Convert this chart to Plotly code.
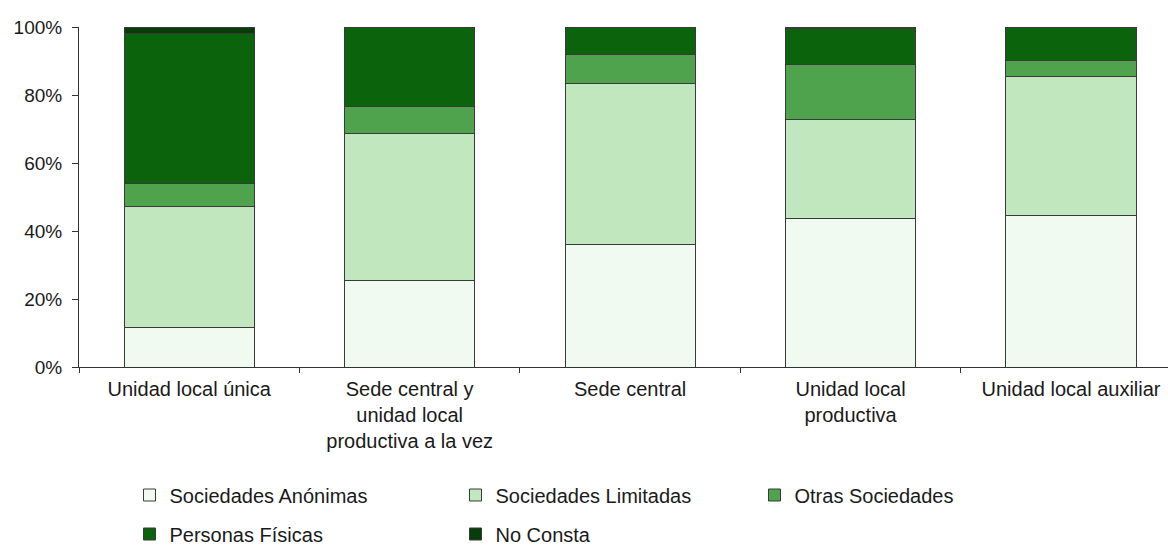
import plotly.graph_objects as go

categories = [
    "Unidad local única",
    "Sede central y<br>unidad local<br>productiva a la vez",
    "Sede central",
    "Unidad local<br>productiva",
    "Unidad local auxiliar",
]
series_names = ["Sociedades Anónimas", "Sociedades Limitadas", "Otras Sociedades",
                "Personas Físicas", "No Consta"]
sociedades_anonimas = [11.5, 25.5, 36.0, 43.7, 44.6]
sociedades_limitadas = [35.8, 43.1, 47.3, 29.1, 40.9]
otras_sociedades = [6.8, 7.9, 8.7, 16.1, 4.7]
personas_fisicas = [44.0, 23.5, 8.0, 10.6, 9.8]
no_consta = [1.9, 0.0, 0.0, 0.5, 0.0]
colors = ["#f1faf0", "#c0e7be", "#4ea34c", "#0b630b", "#083d0a"]

values = [sociedades_anonimas, sociedades_limitadas, otras_sociedades,
          personas_fisicas, no_consta]
legend_ids = ["legend", "legend2", "legend3", "legend4", "legend5"]
# legend entry anchor positions (pixels in the page)
legend_x_px = [129.5, 455.5, 754.5, 129.5, 455.5]
legend_y_px = [495, 495, 495, 534, 534]

fig = go.Figure()
for name, vals, col, lg in zip(series_names, values, colors, legend_ids):
    fig.add_trace(go.Bar(
        x=categories, y=vals, name=name, legend=lg,
        marker=dict(color=col, line=dict(color="#3a3a3a", width=1)),
        width=0.59,
    ))

fam = "Liberation Sans, Arial, sans-serif"
font = dict(family=fam, size=20, color="#1a1a1a")
legend_common = dict(orientation="h", font=font, bgcolor="rgba(0,0,0,0)",
                     xanchor="left", yanchor="middle", itemclick=False,
                     xref="container", yref="container")
legends = {}
for lg, xp, yp in zip(legend_ids, legend_x_px, legend_y_px):
    legends[lg] = dict(x=xp / 1168, y=1 - yp / 545, **legend_common)

fig.update_layout(
    barmode="stack",
    width=1168, height=545,
    margin=dict(l=79, r=0, t=27, b=178, autoexpand=False),
    paper_bgcolor="white", plot_bgcolor="white",
    font=font,
    showlegend=True,
    **legends,
)
fig.update_xaxes(
    range=[-0.5, 4.44], showline=True, linecolor="#333", linewidth=1,
    ticks="outside", tickson="boundaries", ticklen=5, tickcolor="#333",
    showgrid=False, tickfont=dict(family=fam, size=20, color="#1a1a1a"),
    ticklabelstandoff=4,
)
fig.update_yaxes(
    range=[0, 100], dtick=20, ticksuffix="%", showline=True, linecolor="#333",
    linewidth=1, ticks="outside", ticklen=6, tickcolor="#333", showgrid=False,
    zeroline=False, tickfont=dict(family=fam, size=19, color="#1a1a1a"),
    ticklabelstandoff=6,
)

fig.write_html("out.html", config={"displayModeBar": False},
               post_script="document.body.style.margin='0';")
